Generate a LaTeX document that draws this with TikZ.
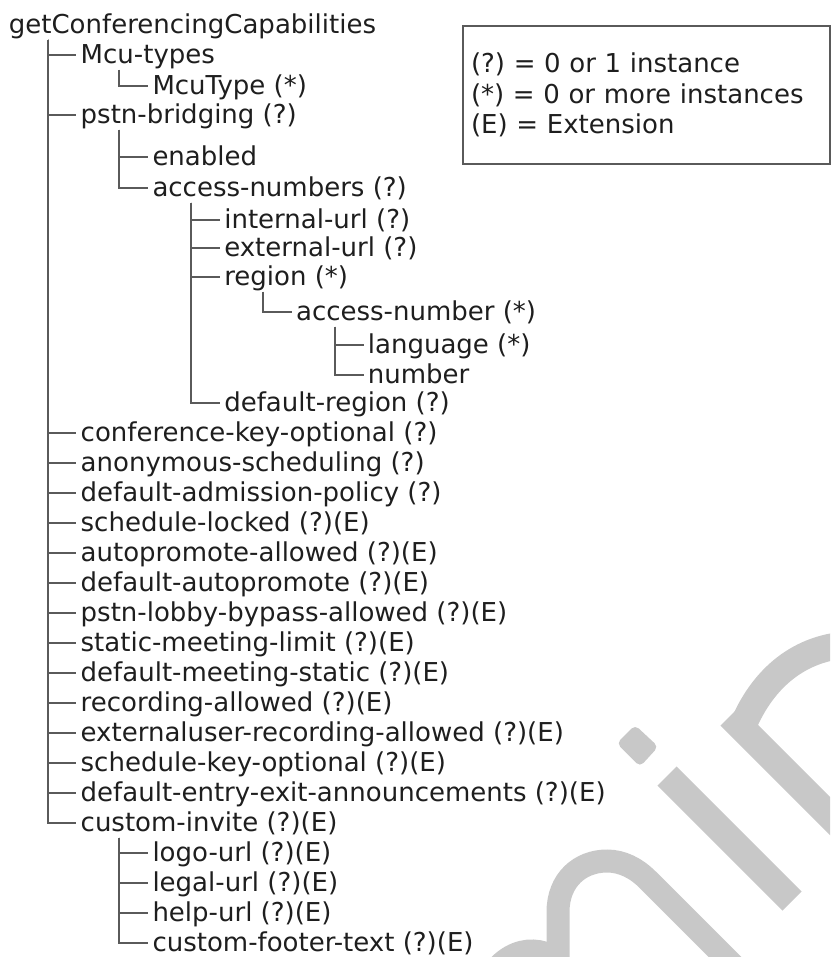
\documentclass[tikz,border=0pt]{standalone}
\usepackage{fontspec}
\setmainfont{DejaVu Sans}
\usetikzlibrary{positioning}
\definecolor{linegray}{RGB}{90,90,90}
\definecolor{inkgray}{RGB}{30,30,30}
\definecolor{wmgray}{RGB}{200,200,200}
\tikzset{
  item/.style={anchor=west, inner xsep=2pt, inner ysep=0pt, text height=11.3pt, text depth=3pt,
    text=inkgray, font=\fontsize{13}{15.25}\selectfont},
  legendbox/.style={draw=linegray, line width=1pt, anchor=north west, minimum width=183.5pt,
    minimum height=69pt, text width=175.5pt, inner xsep=4pt, align=left, text=inkgray,
    font=\fontsize{13}{15.25}\selectfont},
  link/.style={draw=linegray, line width=1pt},
  wm/.style={draw=wmgray, line width=13.5pt}
}
\frenchspacing
\begin{document}
\begin{tikzpicture}[x=0.5pt, y=-0.5pt]
  \useasboundingbox (0,0) rectangle (830,957);
  % watermark
  \begin{scope}
    \clip (0,0) rectangle (830,957);
    \fill[wmgray, rounded corners=2.5pt] (616.7,743.3) -- (635,725) -- (658.3,746.7) -- (640,766.7) -- cycle;
    \draw[wm] (667,776) -- (792,901);
    \draw[wm] (730,716) -- (900,886);
    \draw[wm] (742,728) .. controls (758,688) and (790,650) .. (845,645);
    \draw[wm, line width=11.5pt] (558,990) -- (558,912) .. controls (558,880) and (580,861) .. (607,861)
      .. controls (622,861) and (636,868) .. (648,880) -- (760,992);
    \draw[wm, line width=11.5pt] (480,1000) .. controls (495,950) and (535,940) .. (560,962);
  \end{scope}

  \node[item] (root) at (4.5,25) {getConferencingCapabilities};
  \node[below right=15pt and 35.9pt of root.west, item] (mcutypes) {Mcu-types};
  \node[below right=15.5pt and 35.9pt of mcutypes.west, item] (mcutype) {McuType (*)};
  \node[below=30pt of mcutypes.west, item] (pstn) {pstn-bridging (?)};
  \node[below right=21pt and 35.9pt of pstn.west, item] (enabled) {enabled};
  \node[below=15.5pt of enabled.west, item] (accessnums) {access-numbers (?)};
  \node[below right=16pt and 35.9pt of accessnums.west, item] (internal) {internal-url (?)};
  \node[below=14pt of internal.west, item] (external) {external-url (?)};
  \node[below=14.5pt of external.west, item] (region) {region (*)};
  \node[below right=17.5pt and 35.9pt of region.west, item] (accessnum) {access-number (*)};
  \node[below right=16.5pt and 35.9pt of accessnum.west, item] (language) {language (*)};
  \node[below=15pt of language.west, item] (number) {number};
  \node[below=63pt of region.west, item] (defregion) {default-region (?)};
  \node[below=159pt of pstn.west, item] (confkey) {conference-key-optional (?)};
  \node[below=15pt of confkey.west, item] (anonymous) {anonymous-scheduling (?)};
  \node[below=15pt of anonymous.west, item] (admission) {default-admission-policy (?)};
  \node[below=15pt of admission.west, item] (schedlocked) {schedule-locked (?)(E)};
  \node[below=15pt of schedlocked.west, item] (promoteok) {autopromote-allowed (?)(E)};
  \node[below=15pt of promoteok.west, item] (defpromote) {default-autopromote (?)(E)};
  \node[below=15pt of defpromote.west, item] (lobby) {pstn-lobby-bypass-allowed (?)(E)};
  \node[below=15pt of lobby.west, item] (staticlimit) {static-meeting-limit (?)(E)};
  \node[below=15pt of staticlimit.west, item] (defstatic) {default-meeting-static (?)(E)};
  \node[below=15pt of defstatic.west, item] (recording) {recording-allowed (?)(E)};
  \node[below=15pt of recording.west, item] (extrecording) {externaluser-recording-allowed (?)(E)};
  \node[below=15pt of extrecording.west, item] (schedkey) {schedule-key-optional (?)(E)};
  \node[below=15pt of schedkey.west, item] (entryexit) {default-entry-exit-announcements (?)(E)};
  \node[below=15pt of entryexit.west, item] (invite) {custom-invite (?)(E)};
  \node[below right=15pt and 35.9pt of invite.west, item] (logourl) {logo-url (?)(E)};
  \node[below=15pt of logourl.west, item] (legalurl) {legal-url (?)(E)};
  \node[below=15pt of legalurl.west, item] (helpurl) {help-url (?)(E)};
  \node[below=15pt of helpurl.west, item] (footer) {custom-footer-text (?)(E)};

  \node[legendbox] (legend) at (462,25) {(?) = 0 or 1 instance\\(*) = 0 or more instances\\(E) = Extension};

  \draw[link] ([xshift=21.5pt]root.south west) |- (mcutypes.west);
  \draw[link] ([xshift=21.5pt]root.south west) |- (pstn.west);
  \draw[link] ([xshift=21.5pt]root.south west) |- (confkey.west);
  \draw[link] ([xshift=21.5pt]root.south west) |- (anonymous.west);
  \draw[link] ([xshift=21.5pt]root.south west) |- (admission.west);
  \draw[link] ([xshift=21.5pt]root.south west) |- (schedlocked.west);
  \draw[link] ([xshift=21.5pt]root.south west) |- (promoteok.west);
  \draw[link] ([xshift=21.5pt]root.south west) |- (defpromote.west);
  \draw[link] ([xshift=21.5pt]root.south west) |- (lobby.west);
  \draw[link] ([xshift=21.5pt]root.south west) |- (staticlimit.west);
  \draw[link] ([xshift=21.5pt]root.south west) |- (defstatic.west);
  \draw[link] ([xshift=21.5pt]root.south west) |- (recording.west);
  \draw[link] ([xshift=21.5pt]root.south west) |- (extrecording.west);
  \draw[link] ([xshift=21.5pt]root.south west) |- (schedkey.west);
  \draw[link] ([xshift=21.5pt]root.south west) |- (entryexit.west);
  \draw[link] ([xshift=21.5pt]root.south west) |- (invite.west);
  \draw[link] ([xshift=21.5pt]mcutypes.south west) |- (mcutype.west);
  \draw[link] ([xshift=21.5pt]pstn.south west) |- (enabled.west);
  \draw[link] ([xshift=21.5pt]pstn.south west) |- (accessnums.west);
  \draw[link] ([xshift=21.5pt]accessnums.south west) |- (internal.west);
  \draw[link] ([xshift=21.5pt]accessnums.south west) |- (external.west);
  \draw[link] ([xshift=21.5pt]accessnums.south west) |- (region.west);
  \draw[link] ([xshift=21.5pt]accessnums.south west) |- (defregion.west);
  \draw[link] ([xshift=21.5pt]region.south west) |- (accessnum.west);
  \draw[link] ([xshift=21.5pt]accessnum.south west) |- (language.west);
  \draw[link] ([xshift=21.5pt]accessnum.south west) |- (number.west);
  \draw[link] ([xshift=21.5pt]invite.south west) |- (logourl.west);
  \draw[link] ([xshift=21.5pt]invite.south west) |- (legalurl.west);
  \draw[link] ([xshift=21.5pt]invite.south west) |- (helpurl.west);
  \draw[link] ([xshift=21.5pt]invite.south west) |- (footer.west);
\end{tikzpicture}
\end{document}
